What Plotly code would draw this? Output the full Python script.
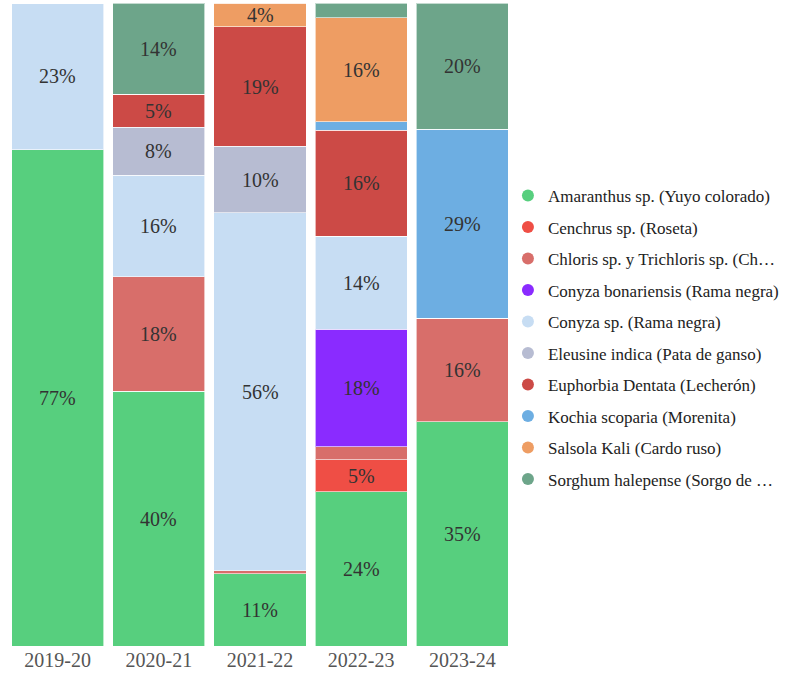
import plotly.graph_objects as go

seasons = ["2019-20", "2020-21", "2021-22", "2022-23", "2023-24"]

species = [
    "Amaranthus sp. (Yuyo colorado)",
    "Cenchrus sp. (Roseta)",
    "Chloris sp. y Trichloris sp. (Ch…",
    "Conyza bonariensis (Rama negra)",
    "Conyza sp. (Rama negra)",
    "Eleusine indica (Pata de ganso)",
    "Euphorbia Dentata (Lecherón)",
    "Kochia scoparia (Morenita)",
    "Salsola Kali (Cardo ruso)",
    "Sorghum halepense (Sorgo de …",
]

amaranthus = [77.2, 39.6, 11.2, 24.0, 34.9]
cenchrus = [0, 0, 0, 5.0, 0]
chloris = [0, 17.8, 0.5, 2.0, 16.1]
conyza_bon = [0, 0, 0, 18.3, 0]
conyza_sp = [22.8, 15.8, 55.7, 14.4, 0]
eleusine = [0, 7.5, 10.3, 0, 0]
euphorbia = [0, 5.1, 18.6, 16.5, 0]
kochia = [0, 0, 0, 1.3, 29.4]
salsola = [0, 0, 3.7, 16.2, 0]
sorghum = [0, 14.2, 0, 2.3, 19.6]

series = [amaranthus, cenchrus, chloris, conyza_bon, conyza_sp,
          eleusine, euphorbia, kochia, salsola, sorghum]

colors = ["#57CF7E", "#EF4E45", "#D86E6A", "#8A2BFF", "#C7DDF3",
          "#B7BCD2", "#CC4A46", "#6DAEE2", "#EE9D63", "#6DA58A"]

FONT = "Liberation Serif"

fig = go.Figure()
cum = [0.0] * len(seasons)
annotations = []
for name, vals, col in zip(species, series, colors):
    fig.add_trace(go.Bar(
        x=seasons, y=vals, name=name,
        marker=dict(color=col, line=dict(color="rgba(255,255,255,0.6)", width=1)),
        showlegend=False, legendgroup=name, hoverinfo="x+y+name",
    ))
    fig.add_trace(go.Scatter(
        x=[None], y=[None], mode="markers", name=name, legendgroup=name,
        marker=dict(symbol="circle", size=12, color=col),
        showlegend=True,
    ))
    for i, v in enumerate(vals):
        if v >= 3.5:
            annotations.append(dict(
                x=seasons[i], y=cum[i] + v / 2, xref="x", yref="y",
                text=f"{v:.0f}%", showarrow=False,
                font=dict(family=FONT, size=20, color="#333333"),
            ))
        cum[i] += v

fig.update_layout(
    barmode="stack",
    bargap=0.09,
    width=790, height=682,
    margin=dict(l=7, r=277, t=3, b=36),
    paper_bgcolor="white", plot_bgcolor="white",
    font=dict(family=FONT, color="#333333"),
    annotations=annotations,
    legend=dict(
        x=0.99, xanchor="left", y=0.48, yanchor="middle",
        font=dict(family=FONT, size=17, color="#222222"),
        tracegroupgap=6.4, itemwidth=30,
        bgcolor="rgba(0,0,0,0)",
    ),
    xaxis=dict(showgrid=False, showline=False, zeroline=False,
               tickfont=dict(family=FONT, size=20, color="#555555"), ticks=""),
    yaxis=dict(range=[0, 100], visible=False, showgrid=False, zeroline=False),
)

fig.write_html("out.html")
